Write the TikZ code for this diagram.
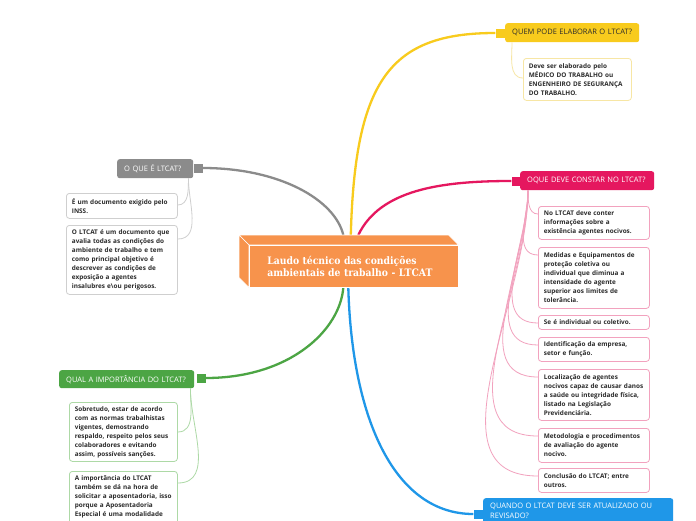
\documentclass[tikz,border=0pt]{standalone}
\usepackage{fontspec}
\setmainfont{Open Sans}
\newfontfamily\ctfont[FakeStretch=0.9]{DejaVu Serif}
\usetikzlibrary{calc}
\definecolor{cyel}{HTML}{F8CB1D}
\definecolor{cyelL}{HTML}{F7E6A4}
\definecolor{cpink}{HTML}{E5175F}
\definecolor{cpinkL}{HTML}{F2A2BE}
\definecolor{cgray}{HTML}{8B8B8B}
\definecolor{cgrayL}{HTML}{CFCFCF}
\definecolor{cgreen}{HTML}{4CA544}
\definecolor{cgreenL}{HTML}{ADD9A6}
\definecolor{cblue}{HTML}{1F97E8}
\definecolor{corange}{HTML}{F7934C}
\definecolor{txt}{HTML}{2B2B2B}
\newcommand\labfont{\fontsize{7.5}{10.5}\selectfont}
\newcommand\subfont{\fontsize{6.4}{9}\selectfont\bfseries}
\newcommand\cfont{\ctfont\fontsize{10.3}{12.5}\selectfont\bfseries}
\tikzset{
  lab/.style={rounded corners=2.5pt, anchor=north west, inner xsep=7pt, inner ysep=0pt, align=left, font=\labfont, text=white},
  sub/.style={rounded corners=3pt, anchor=north west, fill=white, line width=0.8pt, inner xsep=5.5pt, inner ysep=0pt, align=left, font=\subfont, text=txt},
  sq/.style={minimum size=9pt, inner sep=0pt},
  mainln/.style={line width=2.3pt},
  thinln/.style={line width=0.8pt},
  cbox/.style={fill=corange, draw=white, line width=0.6pt, minimum width=209pt, minimum height=42pt, anchor=north west, inner xsep=18pt, inner ysep=0pt, text width=173pt, align=left, font=\cfont, text=white},
}
\begin{document}
\begin{tikzpicture}[x=1pt,y=-1pt]
\useasboundingbox[fill=white] (0,0) rectangle (696,520);
\clip (0,0) rectangle (696,520);

% central node geometry (front face)
\node[cbox] (c) at (249,245) {Laudo técnico das condições\\ambientais de trabalho - LTCAT};

% squares
\node[sq, fill=cyel] (sy) at (500,33) {};
\node[sq, fill=cpink] (sp) at (516,181) {};
\node[sq, fill=cgray] (sg) at (198,168) {};
\node[sq, fill=cgreen] (se) at (201,378) {};
\node[sq, fill=cblue] (sb) at (478,514) {};

% main curves
\draw[mainln, cyel] ($(c.north)+(-3,-10)$) .. controls (355,80) and (390,33) .. (sy.west);
\draw[mainln, cpink] ($(c.north)+(4.5,-10)$) .. controls (380,190) and (440,181) .. (sp.west);
\draw[mainln, cgray] ($(c.north)+(-10.5,-10)$) .. controls (335,200) and (280,168) .. (sg.east);
\draw[mainln, cgreen] ($(c.south)+(-10.5,0)$) .. controls (340,330) and (290,378) .. (se.east);
\draw[mainln, cblue] ($(c.south)+(-5.5,0)$) .. controls (352,420) and (395,514) .. (sb.west);

% 3D faces of central box
\draw[fill=corange, draw=white, line width=0.6pt] (c.north west) -- ++(-10,-10) -- ($(c.north east)+(-10,-10)$) -- (c.north east) -- cycle;
\draw[fill=corange, draw=white, line width=0.6pt] (c.north west) -- ++(-10,-10) -- ($(c.south west)+(-10,-10)$) -- (c.south west) -- cycle;
\node[cbox] at (249,245) {Laudo técnico das condições\\ambientais de trabalho - LTCAT};

% branch labels
\node[lab, fill=cyel, text=txt, minimum width=134pt, minimum height=19pt, text width=120pt] (ly) at (505,23) {QUEM PODE ELABORAR O LTCAT?};
\node[lab, fill=cpink, minimum width=134pt, minimum height=19pt, text width=120pt] (lp) at (520,171) {OQUE DEVE CONSTAR NO LTCAT?};
\node[lab, fill=cgray, minimum width=76pt, minimum height=19pt, text width=62pt] (lg) at (117,159) {O QUE É LTCAT?};
\node[lab, fill=cgreen, minimum width=135pt, minimum height=18pt, text width=121pt] (le) at (59,370) {QUAL A IMPORTÂNCIA DO LTCAT?};
\node[lab, fill=cblue, inner ysep=4.5pt, text width=176pt] (lb) at (483,498) {QUANDO O LTCAT DEVE SER ATUALIZADO OU\\REVISADO?};

% sub-node connectors
\coordinate (cy) at ($(ly.south west)+(7,0)$);
\coordinate (cp) at ($(lp.south west)+(8,0)$);
\coordinate (cg) at ($(lg.south east)+(-5,0)$);
\coordinate (ce) at ($(le.south east)+(-4,0)$);

% yellow sub
\node[sub, draw=cyelL, minimum height=42pt, text width=97pt] (y1) at (523,58) {Deve ser elaborado pelo\\MÉDICO DO TRABALHO ou\\ENGENHEIRO DE SEGURANÇA\\DO TRABALHO.};
\draw[thinln, cyelL] (cy) to[out=-90,in=180] ($(y1.north west)+(0,20)$);

% pink subs
\node[sub, draw=cpinkL, minimum height=33pt, text width=100pt] (p1) at (538,206) {No LTCAT deve conter\\informações sobre a\\existência agentes nocivos.};
\node[sub, draw=cpinkL, minimum height=61pt, text width=100pt] (p2) at (538,247) {Medidas e Equipamentos de\\proteção coletiva ou\\individual que diminua a\\intensidade do agente\\superior aos limites de\\tolerância.};
\node[sub, draw=cpinkL, minimum height=14pt, text width=100pt] (p3) at (538,315) {Se é individual ou coletivo.};
\node[sub, draw=cpinkL, minimum height=24pt, text width=100pt] (p4) at (538,337) {Identificação da empresa,\\setor e função.};
\node[sub, draw=cpinkL, minimum height=51pt, text width=100pt] (p5) at (538,369) {Localização de agentes\\nocivos capaz de causar danos\\a saúde ou integridade física,\\listado na Legislação\\Previdenciária.};
\node[sub, draw=cpinkL, minimum height=34pt, text width=100pt] (p6) at (538,428) {Metodologia e procedimentos\\de avaliação do agente\\nocivo.};
\node[sub, draw=cpinkL, minimum height=24pt, text width=100pt] (p7) at (538,468) {Conclusão do LTCAT; entre\\outros.};
\foreach \n in {p1,p2,p3,p4,p5,p6,p7}{
  \draw[thinln, cpinkL] (cp) to[out=-90,in=180] ($(\n.north west)+(0,8)$);
}

% gray subs
\node[sub, draw=cgrayL, minimum height=25pt, text width=100pt] (g1) at (66,193) {É um documento exigido pelo\\INSS.};
\node[sub, draw=cgrayL, minimum height=69pt, text width=100pt] (g2) at (66,225) {O LTCAT é um documento que\\avalia todas as condições do\\ambiente de trabalho e tem\\como principal objetivo é\\descrever as condições de\\exposição a agentes\\insalubres e\textbackslash ou perigosos.};
\draw[thinln, cgrayL] (cg) to[out=-90,in=0] ($(g1.north east)+(0,12)$);
\draw[thinln, cgrayL] (cg) to[out=-90,in=0] ($(g2.north east)+(0,14)$);

% green subs
\node[sub, draw=cgreenL, minimum height=59pt, text width=97pt] (e1) at (69,402) {Sobretudo, estar de acordo\\com as normas trabalhistas\\vigentes, demostrando\\respaldo, respeito pelos seus\\colaboradores e evitando\\assim, possíveis sanções.};
\node[sub, draw=cgreenL, inner ysep=4pt, text width=97pt] (e2) at (69,471) {A importância do LTCAT\\também se dá na hora de\\solicitar a aposentadoria, isso\\porque a Aposentadoria\\Especial é uma modalidade\\\strut};
\draw[thinln, cgreenL] (ce) to[out=-90,in=0] ($(e1.north east)+(0,30)$);
\draw[thinln, cgreenL] (ce) to[out=-90,in=0] ($(e2.north east)+(0,12)$);
\end{tikzpicture}
\end{document}
